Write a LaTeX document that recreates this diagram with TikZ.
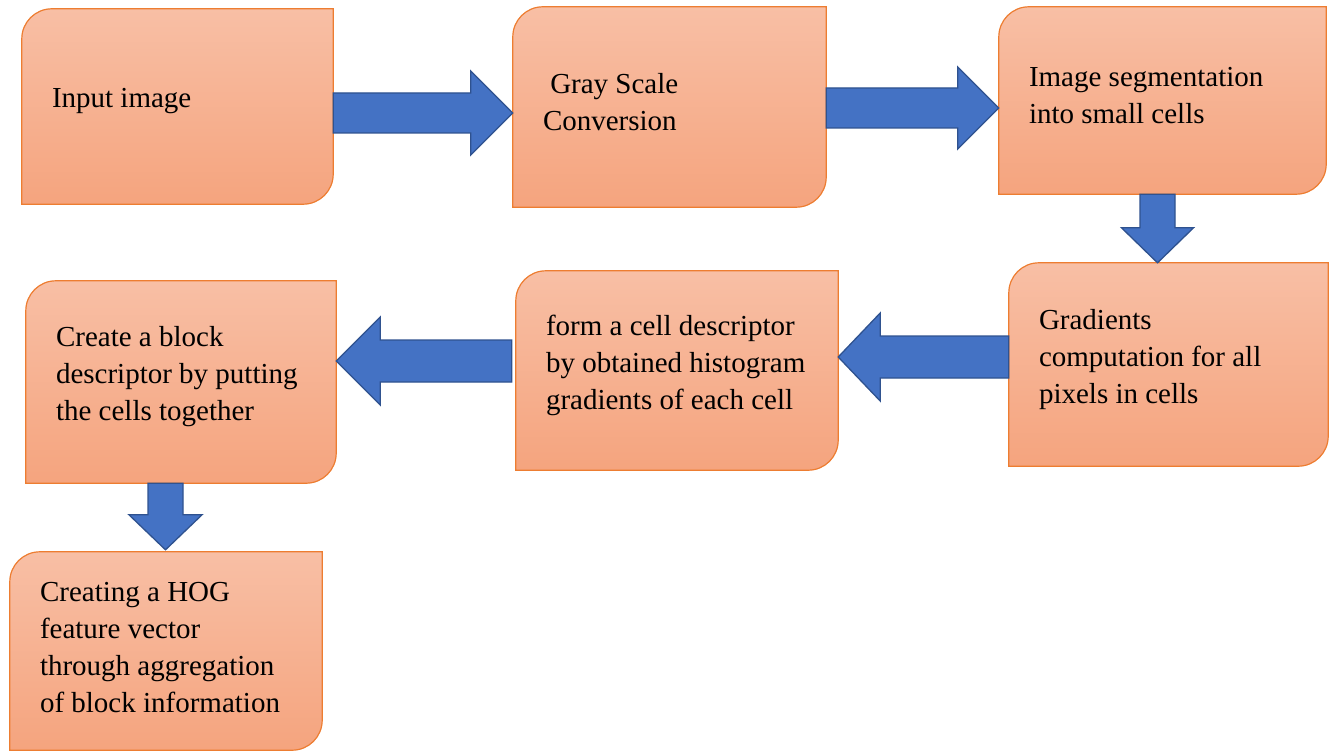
\documentclass[tikz,border=0pt]{standalone}
\usepackage{fontspec}
\setmainfont{Liberation Serif}
\usetikzlibrary{calc}
\definecolor{boxtop}{HTML}{F8BFA5}
\definecolor{boxbot}{HTML}{F5A47E}
\definecolor{boxline}{HTML}{ED7D31}
\definecolor{arrfill}{HTML}{4472C4}
\definecolor{arrline}{HTML}{2F528F}
\tikzset{
  stepbox/.style={rectangle, draw=none, inner sep=0pt},
  steptext/.style={anchor=west, align=left, inner sep=0pt, font=\fontsize{29}{37}\selectfont},
  boxshape/.style={draw=boxline, line width=1.2pt, top color=boxtop, bottom color=boxbot},
  blockarrow/.style={draw=arrline, line width=1.3pt, fill=arrfill, line join=miter}
}

\begin{document}
\begin{tikzpicture}[x=1pt, y=1pt]
        \useasboundingbox (0,0) rectangle (1332,-751);

        % boxes
        \node[stepbox, minimum width=311pt, minimum height=195pt] (inp) at (177.5,-106.5) {};
        \node[stepbox, minimum width=313pt, minimum height=200pt] (gray) at (669.5,-107) {};
        \node[stepbox, minimum width=327pt, minimum height=187pt] (seg) at (1162.5,-100.5) {};
        \node[stepbox, minimum width=319pt, minimum height=203pt] (grad) at (1168.5,-364.5) {};
        \node[stepbox, minimum width=322pt, minimum height=199pt] (cell) at (677,-370.5) {};
        \node[stepbox, minimum width=310pt, minimum height=202pt] (block) at (181,-382) {};
        \node[stepbox, minimum width=312pt, minimum height=198pt] (hog) at (166,-651) {};

        \foreach \n in {inp,gray,seg,grad,cell,block,hog}
            \draw[boxshape] (\n.south west) -- ([yshift=-30pt]\n.north west)
                arc[start angle=180, end angle=90, radius=30pt] -- (\n.north east)
                -- ([yshift=30pt]\n.south east) arc[start angle=0, end angle=-90, radius=30pt] -- cycle;

        % texts
        \node[steptext] (inptxt) at ([xshift=30pt, yshift=5pt]inp.west) {Input image};
        \node[steptext] (graytxt) at ([xshift=30pt, yshift=5pt]gray.west) {~Gray Scale\\Conversion};
        \node[steptext] (segtxt) at ([xshift=30pt, yshift=5pt]seg.west) {Image segmentation\\into small cells};
        \node[steptext] (gradtxt) at ([xshift=30pt, yshift=5pt]grad.west) {Gradients\\computation for all\\pixels in cells};
        \node[steptext] (celltxt) at ([xshift=30pt, yshift=5pt]cell.west) {form a cell descriptor\\by obtained histogram\\gradients of each cell};
        \node[steptext] (blocktxt) at ([xshift=30pt, yshift=5pt]block.west) {Create a block\\descriptor by putting\\the cells together};
        \node[steptext] (hogtxt) at ([xshift=30pt, yshift=3pt]hog.west) {Creating a HOG\\feature vector\\through aggregation\\of block information};

        % arrows
        \coordinate (t1) at (inp.east |- 0,-113);
        \coordinate (h1) at (gray.west |- 0,-113);
        \draw[blockarrow] ($(t1)+(0,20)$) -- ($(h1)+(-42,20)$) -- ($(h1)+(-42,42)$) -- (h1)
            -- ($(h1)+(-42,-42)$) -- ($(h1)+(-42,-20)$) -- ($(t1)+(0,-20)$) -- cycle;

        \coordinate (t2) at (gray.east |- 0,-108);
        \coordinate (h2) at (seg.west |- 0,-108);
        \draw[blockarrow] ($(t2)+(0,20)$) -- ($(h2)+(-41,20)$) -- ($(h2)+(-41,41)$) -- (h2)
            -- ($(h2)+(-41,-41)$) -- ($(h2)+(-41,-20)$) -- ($(t2)+(0,-20)$) -- cycle;

        \coordinate (t3) at (seg.south -| 1157.5,0);
        \coordinate (h3) at (grad.north -| 1157.5,0);
        \draw[blockarrow] ($(t3)+(-17.5,0)$) -- ($(h3)+(-17.5,35)$) -- ($(h3)+(-36,35)$) -- (h3)
            -- ($(h3)+(36,35)$) -- ($(h3)+(17.5,35)$) -- ($(t3)+(17.5,0)$) -- cycle;

        \coordinate (t4) at (grad.west |- 0,-357);
        \coordinate (h4) at (cell.east |- 0,-357);
        \draw[blockarrow] ($(t4)+(0,21)$) -- ($(h4)+(42,21)$) -- ($(h4)+(42,44)$) -- (h4)
            -- ($(h4)+(42,-44)$) -- ($(h4)+(42,-21)$) -- ($(t4)+(0,-21)$) -- cycle;

        \coordinate (t5) at (cell.west |- 0,-361);
        \coordinate (h5) at (block.east |- 0,-361);
        \draw[blockarrow] ($(t5)+(-4,21)$) -- ($(h5)+(44,21)$) -- ($(h5)+(44,44)$) -- (h5)
            -- ($(h5)+(44,-44)$) -- ($(h5)+(44,-21)$) -- ($(t5)+(-4,-21)$) -- cycle;

        \coordinate (t6) at (block.south -| 165.5,0);
        \coordinate (h6) at ([yshift=2pt]hog.north -| 165.5,0);
        \draw[blockarrow] ($(t6)+(-17.5,0)$) -- ($(h6)+(-17.5,35)$) -- ($(h6)+(-36.5,35)$) -- (h6)
            -- ($(h6)+(36.5,35)$) -- ($(h6)+(17.5,35)$) -- ($(t6)+(17.5,0)$) -- cycle;
\end{tikzpicture}
\end{document}
